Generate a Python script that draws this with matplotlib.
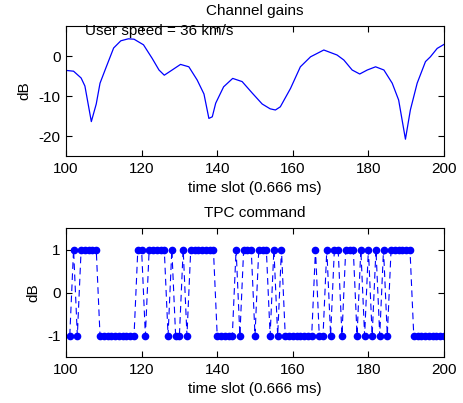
import numpy as np
import matplotlib
matplotlib.use("Agg")
import matplotlib.pyplot as plt

plt.rcParams['font.family'] = ['Liberation Sans', 'DejaVu Sans']
plt.rcParams['font.size'] = 11
plt.rcParams['axes.unicode_minus'] = False

# channel gain curve (time slot, dB)
gain_slot = [100, 102, 104, 105, 106.7, 108, 109, 110.5, 112.6, 114.5, 116.5, 118,
             120.5, 122.8, 124.6, 126, 127.6, 130.3, 132.5, 134.7, 136.5, 137.8,
             138.7, 139.6, 141.7, 144.1, 146.6, 149.3, 151.9, 154, 155.4, 156.7,
             159.4, 162, 164.7, 168.2, 171.7, 173.5, 175.7, 177.7, 179.7, 181.9,
             184.1, 186.3, 188, 189.8, 191.1, 192.9, 195.1, 196.4, 198.2, 200]
gain_db = [-3.6, -3.8, -5.5, -7.5, -16.4, -12, -6.8, -3.1, 2.0, 3.8, 4.3, 4.2,
           2.8, -0.6, -3.5, -4.8, -3.8, -2.1, -2.7, -6, -9.5, -15.6,
           -15.2, -11.8, -7.7, -5.6, -6.4, -9.3, -12, -13.2, -13.5, -12.7,
           -8.1, -2.7, -0.2, 1.5, 0.25, -1, -3.5, -4.5, -3.5, -2.7,
           -3.5, -6.8, -11, -20.8, -13.5, -6.8, -1.4, -0.2, 1.9, 2.9]

# TPC commands for slots 101..200
tpc_slot = list(range(101, 201))
tpc_cmd = ([-1, 1, -1] + [1] * 5 + [-1] * 10 + [1] * 2 + [-1] + [1] * 5 + [-1, 1, -1, -1, 1, -1]
           + [1] * 7 + [-1] * 5 + [1, -1] + [1] * 3 + [-1] + [1] * 3 + [-1, 1, -1, 1]
           + [-1] * 8 + [1, -1, -1, 1, -1, 1, 1, -1, 1, 1, 1, -1, 1, -1, 1, -1, 1, -1, 1, -1]
           + [1] * 6 + [-1] * 9)

speed_text = 'User speed = 36 km/s'

fig = plt.figure(figsize=(4.64, 4.03), dpi=100)
ax1 = fig.add_axes([66 / 464, 1 - 156 / 403, 378 / 464, 130 / 403])
ax2 = fig.add_axes([66 / 464, 1 - 357 / 403, 378 / 464, 129 / 403])

ax1.plot(gain_slot, gain_db, color='blue', linewidth=0.9)
ax1.set_xlim(100, 200)
ax1.set_ylim(-25, 7.5)
ax1.set_yticks([-20, -10, 0])
ax1.set_xticks(range(100, 201, 20))
ax1.set_title('Channel gains', fontsize=11, pad=8)
ax1.set_xlabel('time slot (0.666 ms)', labelpad=4)
ax1.set_ylabel('dB', labelpad=5)
ax1.text(105, 6.2, speed_text, fontsize=11, va='center', ha='left')

ax2.plot(tpc_slot, tpc_cmd, color='blue', linestyle='--', linewidth=0.8,
         marker='o', markersize=4.5, dashes=(6, 4))
ax2.set_xlim(100, 200)
ax2.set_ylim(-1.5, 1.5)
ax2.set_yticks([-1, 0, 1])
ax2.set_xticks(range(100, 201, 20))
ax2.set_title('TPC command', fontsize=11, pad=8)
ax2.set_xlabel('time slot (0.666 ms)', labelpad=4)
ax2.set_ylabel('dB', labelpad=5)

for ax in (ax1, ax2):
    ax.tick_params(direction='in', top=True, right=True, length=4, width=0.8, pad=4)
    for s in ax.spines.values():
        s.set_linewidth(0.8)

fig.savefig('out.png', dpi=100)
